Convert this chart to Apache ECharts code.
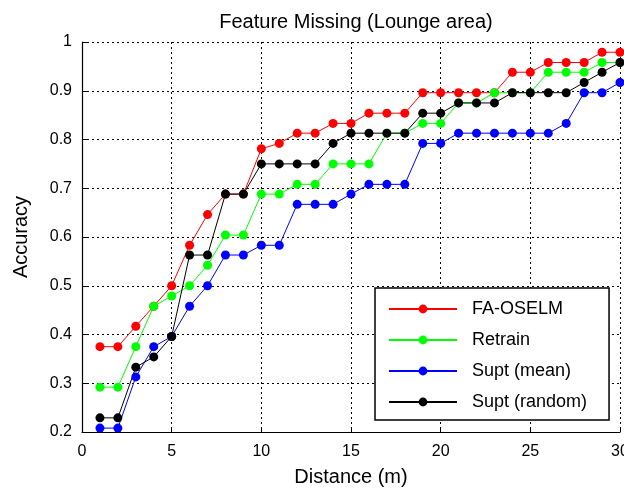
<!DOCTYPE html>
<html>
<head>
<meta charset="utf-8">
<title>Feature Missing (Lounge area)</title>
<script src="https://cdn.jsdelivr.net/npm/echarts@6/dist/echarts.min.js"></script>
<style>
    html, body { margin: 0; padding: 0; background: #fff; }
    #main { width: 624px; height: 489px; }
</style>
</head>
<body>
<div id="main"></div>
<script>
    // distance (m)
    var distance = [1, 2, 3, 4, 5, 6, 7, 8, 9, 10, 11, 12, 13, 14, 15, 16, 17, 18, 19, 20, 21, 22, 23, 24, 25, 26, 27, 28, 29, 30];

    var faOselm = [0.375, 0.375, 0.417, 0.458, 0.5, 0.583, 0.646, 0.688, 0.688, 0.781,
        0.792, 0.813, 0.813, 0.833, 0.833, 0.854, 0.854, 0.854, 0.896, 0.896,
        0.896, 0.896, 0.896, 0.938, 0.938, 0.958, 0.958, 0.958, 0.979, 0.979];
    var retrain = [0.292, 0.292, 0.375, 0.458, 0.479, 0.5, 0.542, 0.604, 0.604, 0.688,
        0.688, 0.708, 0.708, 0.75, 0.75, 0.75, 0.813, 0.813, 0.833, 0.833,
        0.875, 0.875, 0.896, 0.896, 0.896, 0.938, 0.938, 0.938, 0.958, 0.958];
    var suptMean = [0.208, 0.208, 0.313, 0.375, 0.396, 0.458, 0.5, 0.563, 0.563, 0.583,
        0.583, 0.667, 0.667, 0.667, 0.688, 0.708, 0.708, 0.708, 0.792, 0.792,
        0.813, 0.813, 0.813, 0.813, 0.813, 0.813, 0.833, 0.896, 0.896, 0.917];
    var suptRandom = [0.229, 0.229, 0.333, 0.354, 0.396, 0.563, 0.563, 0.688, 0.688, 0.75,
        0.75, 0.75, 0.75, 0.792, 0.813, 0.813, 0.813, 0.813, 0.854, 0.854,
        0.875, 0.875, 0.875, 0.896, 0.896, 0.896, 0.896, 0.917, 0.938, 0.958];

    var seriesNames = ['FA-OSELM', 'Retrain', 'Supt (mean)', 'Supt (random)'];
    var seriesColors = ['#ff0000', '#00ff00', '#0000ff', '#000000'];
    var seriesValues = [faOselm, retrain, suptMean, suptRandom];

    var font = 'Liberation Sans, Arial, Helvetica, sans-serif';

    function pairs(values) {
        return distance.map(function (d, i) { return [d, values[i]]; });
    }

    var series = seriesNames.map(function (name, k) {
        return {
            name: name,
            type: 'line',
            data: pairs(seriesValues[k]),
            symbol: 'circle',
            symbolSize: 9,
            color: seriesColors[k],
            lineStyle: { width: 1, color: seriesColors[k] },
            itemStyle: { color: seriesColors[k] },
            emphasis: { disabled: true },
            animation: false
        };
    });

    var gridLine = { show: true, lineStyle: { color: '#000', width: 1, type: [2, 3] } };

    var chart = echarts.init(document.getElementById('main'));
    chart.setOption({
        backgroundColor: '#fff',
        animation: false,
        title: {
            text: 'Feature Missing (Lounge area)',
            left: 351,
            textAlign: 'center',
            top: 7,
            textStyle: { fontFamily: font, fontSize: 20, fontWeight: 'normal', color: '#000' }
        },
        grid: { left: 82, right: 4, top: 42, bottom: 57, outerBoundsMode: 'none', containLabel: false },
        legend: {
            orient: 'vertical',
            left: 375,
            top: 288,
            itemWidth: 68,
            itemHeight: 11,
            itemGap: 11,
            padding: [11, 22, 8, 13],
            backgroundColor: '#fff',
            borderColor: '#000',
            borderWidth: 1.5,
            borderRadius: 0,
            textStyle: { fontFamily: font, fontSize: 18, color: '#000', lineHeight: 20, padding: [0, 0, 0, 10] },
            data: seriesNames
        },
        xAxis: {
            type: 'value',
            min: 0,
            max: 30,
            interval: 5,
            name: 'Distance (m)',
            nameLocation: 'middle',
            nameGap: 35,
            nameTextStyle: { fontFamily: font, fontSize: 20, color: '#000' },
            axisLine: { show: true, onZero: false, lineStyle: { color: '#000', width: 1.2 } },
            axisTick: { show: true, inside: true, length: 5, lineStyle: { color: '#000' } },
            axisLabel: { fontFamily: font, fontSize: 16, color: '#000', margin: 12 },
            splitLine: gridLine
        },
        yAxis: {
            type: 'value',
            min: 0.2,
            max: 1,
            interval: 0.1,
            name: 'Accuracy',
            nameLocation: 'middle',
            nameGap: 51,
            nameTextStyle: { fontFamily: font, fontSize: 20, color: '#000' },
            axisLine: { show: true, lineStyle: { color: '#000', width: 1.2 } },
            axisTick: { show: true, inside: true, length: 5, lineStyle: { color: '#000' } },
            axisLabel: {
                fontFamily: font, fontSize: 16, color: '#000', margin: 10,
                formatter: function (v) { return String(Math.round(v * 10) / 10); }
            },
            splitLine: gridLine
        },
        series: series
    });
</script>
</body>
</html>
